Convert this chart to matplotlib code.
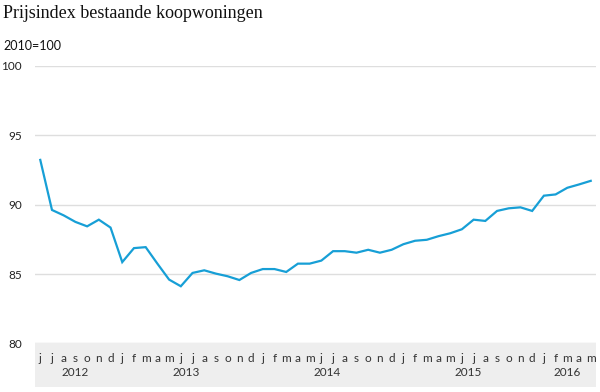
import matplotlib
matplotlib.use("Agg")
import matplotlib.pyplot as plt
from matplotlib.patches import Rectangle
from matplotlib.transforms import blended_transform_factory

# Prijsindex bestaande koopwoningen, juni 2012 - mei 2016 (2010=100)
months = ["j", "j", "a", "s", "o", "n", "d"] + \
         ["j", "f", "m", "a", "m", "j", "j", "a", "s", "o", "n", "d"] * 3 + \
         ["j", "f", "m", "a", "m"]
index_values = [
    93.23, 89.62, 89.23, 88.76, 88.44, 88.92, 88.35,
    85.86, 86.87, 86.94, 85.75, 84.60, 84.12, 85.08, 85.27, 85.03, 84.84, 84.57, 85.08,
    85.36, 85.36, 85.15, 85.75, 85.75, 85.97, 86.65, 86.65, 86.54, 86.75, 86.54, 86.75,
    87.15, 87.40, 87.47, 87.73, 87.94, 88.23, 88.92, 88.83, 89.55, 89.74, 89.81, 89.55,
    90.65, 90.74, 91.22, 91.46, 91.72,
]
years = ["2012", "2013", "2014", "2015", "2016"]
year_centers = [3, 12.5, 24.5, 36.5, 45]
y_ticks = [80, 85, 90, 95, 100]

sans = "Lato"
fig = plt.figure(figsize=(6, 3.92), dpi=100)
ax = fig.add_axes([35 / 600, 1 - 343.4 / 392, 561 / 600, (343.4 - 66) / 392])

x = list(range(len(index_values)))
ax.plot(x, index_values, color="#179fd6", lw=1.6, solid_joinstyle="miter", zorder=3)

ax.set_ylim(80, 100)
ax.set_xlim(-0.45, 47.45)
ax.set_yticks(y_ticks)
ax.set_yticklabels([str(t) for t in y_ticks], fontsize=8.5, fontname=sans, color="#222222")
ax.grid(axis="y", color="#dedede", lw=1)
ax.set_axisbelow(True)
for s in ax.spines.values():
    s.set_visible(False)
ax.tick_params(axis="y", length=0, pad=9.5)

ax.set_xticks(x)
ax.set_xticklabels(months, fontsize=8.5, fontname=sans, color="#333333")
ax.tick_params(axis="x", length=0, pad=7)

# grijze band onder de grafiek
band_h = (387 - 343.4) / (343.4 - 66)
ax.add_patch(Rectangle((0, -band_h), 1, band_h, transform=ax.transAxes,
                       clip_on=False, facecolor="#eeeeee", edgecolor="none", zorder=0))

trans = blended_transform_factory(ax.transData, ax.transAxes)
for yr, c in zip(years, year_centers):
    ax.text(c, -0.105, yr, transform=trans, ha="center", va="center",
            fontsize=8.5, fontname=sans, color="#333333")

fig.text(3 / 600, 1 - 14 / 392, "Prijsindex bestaande koopwoningen", fontsize=13,
         fontname="Liberation Serif", color="#111111", va="center", ha="left")
fig.text(3 / 600, 1 - 46 / 392, "2010=100", fontsize=9, fontname=sans,
         color="#111111", va="center", ha="left")

fig.savefig("out.png", dpi=100)
